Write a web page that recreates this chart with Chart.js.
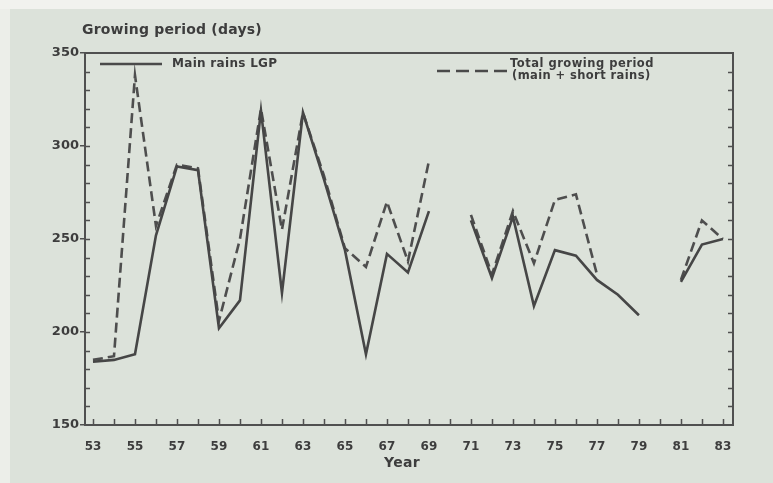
<!DOCTYPE html>
<html>
<head>
<meta charset="utf-8">
<title>Growing period (days)</title>
<script src="https://cdn.jsdelivr.net/npm/chart.js@4"></script>
<style>
  html, body { margin: 0; padding: 0; }
  body {
    width: 773px; height: 483px; overflow: hidden;
    background:
      linear-gradient(to bottom, #f1f2ee 0, #f1f2ee 9px, rgba(0,0,0,0) 9px),
      linear-gradient(to right, #eceee9 0, #eceee9 10px, #dce2da 10px);
  }
  #wrap { position: absolute; left: 0; top: 0; width: 773px; height: 483px; }
</style>
</head>
<body>
<div id="wrap"><canvas id="lgp" width="773" height="483"></canvas></div>
<script>
// Seasons 1953-1983 (two-digit years); null = no record for that year
const years = [53,54,55,56,57,58,59,60,61,62,63,64,65,66,67,68,69,70,71,72,73,74,75,76,77,78,79,80,81,82,83];

// Length of growing period from the main rains only (days)
const mainRains = [184,185,188,252,289,287,202,217,319,221,318,282,244,188,242,232,265,null,260,229,262,214,244,241,228,220,209,null,227,247,250];

// Total growing period, main + short rains (days)
const totalPeriod = [185,187,338,257,290,288,206,250,320,255,318,284,245,235,270,238,292,null,263,231,265,237,271,274,231,null,null,null,228,260,250];

const xTickLabels = [53,55,57,59,61,63,65,67,69,71,73,75,77,79,81,83];
const yTickLabels = [150,200,250,300,350];

const INK = '#3d3d3d';
const AXIS = '#505050';
const FONT = '"DejaVu Sans", sans-serif';

function series(values) {
  return years.map((yr, i) => ({ x: yr, y: values[i] }));
}

function spacedText(ctx, text, x, y, spacing) {
  ctx.letterSpacing = spacing + 'px';
  ctx.fillText(text, x, y);
  ctx.letterSpacing = '0px';
}

// Frame, inward tick marks, legend and captions
const decorations = {
  id: 'decorations',
  afterDraw(chart) {
    const { ctx, chartArea: a, scales: { x, y } } = chart;
    ctx.save();
    ctx.strokeStyle = AXIS;
    ctx.lineWidth = 2;
    ctx.lineCap = 'butt';

    // top and right edges of the frame
    ctx.beginPath();
    ctx.moveTo(a.left - 1, a.top);
    ctx.lineTo(a.right, a.top);
    ctx.lineTo(a.right, a.bottom + 1);
    ctx.stroke();

    // minor ticks every 10 days on both vertical edges, pointing inward
    ctx.lineWidth = 1.5;
    ctx.beginPath();
    for (let v = 160; v < 350; v += 10) {
      const py = Math.round(y.getPixelForValue(v)) + 0.5;
      ctx.moveTo(a.left, py); ctx.lineTo(a.left + 5, py);
      ctx.moveTo(a.right, py); ctx.lineTo(a.right - 5, py);
    }
    // a tick for every year along the bottom, pointing up
    years.forEach(yr => {
      const px = Math.round(x.getPixelForValue(yr)) + 0.5;
      ctx.moveTo(px, a.bottom); ctx.lineTo(px, a.bottom - 6);
    });
    ctx.stroke();

    // legend
    ctx.fillStyle = INK;
    ctx.strokeStyle = '#4a4a4a';
    ctx.lineWidth = 2.4;
    ctx.beginPath();
    ctx.moveTo(100, 64); ctx.lineTo(162, 64);
    ctx.stroke();
    ctx.setLineDash([13, 6]);
    ctx.beginPath();
    ctx.moveTo(437, 71); ctx.lineTo(507, 71);
    ctx.stroke();
    ctx.setLineDash([]);

    ctx.textBaseline = 'middle';
    ctx.textAlign = 'left';
    ctx.font = 'bold 12px ' + FONT;
    spacedText(ctx, 'Main rains LGP', 172, 64, 0.3);
    ctx.font = 'bold 11.5px ' + FONT;
    spacedText(ctx, 'Total growing period', 510, 64.5, 0.5);
    spacedText(ctx, '(main + short rains)', 512, 76, 0.4);

    // axis captions
    ctx.font = 'bold 14px ' + FONT;
    spacedText(ctx, 'Growing period (days)', 82, 30, 0.2);
    ctx.textAlign = 'center';
    ctx.font = 'bold 14px ' + FONT;
    spacedText(ctx, 'Year', 402, 463, 0.3);
    ctx.restore();
  }
};

new Chart(document.getElementById('lgp'), {
  type: 'line',
  data: {
    datasets: [
      {
        label: 'Main rains LGP',
        data: series(mainRains),
        borderColor: '#464646',
        borderWidth: 2.6,
        pointRadius: 0,
        tension: 0,
        spanGaps: false,
        borderJoinStyle: 'miter'
      },
      {
        label: 'Total growing period (main + short rains)',
        data: series(totalPeriod),
        borderColor: '#4e4e4e',
        borderWidth: 2.6,
        borderDash: [10, 5],
        pointRadius: 0,
        tension: 0,
        spanGaps: false,
        borderJoinStyle: 'miter'
      }
    ]
  },
  options: {
    responsive: false,
    animation: false,
    events: [],
    layout: { padding: { top: 53, right: 40, left: 0, bottom: 0 } },
    plugins: {
      legend: { display: false },
      tooltip: { enabled: false },
      title: { display: false }
    },
    scales: {
      x: {
        type: 'linear',
        min: 52.62,
        max: 83.48,
        afterBuildTicks(scale) { scale.ticks = xTickLabels.map(v => ({ value: v })); },
        afterFit(scale) { scale.height = 58; },
        grid: { display: false },
        border: { display: true, color: AXIS, width: 2 },
        ticks: {
          autoSkip: false,
          maxRotation: 0,
          padding: 7,
          color: INK,
          font: { family: FONT, size: 12, weight: 'bold' },
          callback: v => String(v)
        }
      },
      y: {
        min: 150,
        max: 350,
        afterBuildTicks(scale) { scale.ticks = yTickLabels.map(v => ({ value: v })); },
        afterFit(scale) { scale.width = 85; },
        grid: { drawOnChartArea: false, drawTicks: true, tickLength: 5, color: AXIS, lineWidth: 1.5 },
        border: { display: true, color: AXIS, width: 2 },
        ticks: {
          padding: 1,
          color: INK,
          font: { family: FONT, size: 13, weight: 'bold' },
          callback: v => String(v)
        }
      }
    }
  },
  plugins: [decorations]
});
</script>
</body>
</html>
